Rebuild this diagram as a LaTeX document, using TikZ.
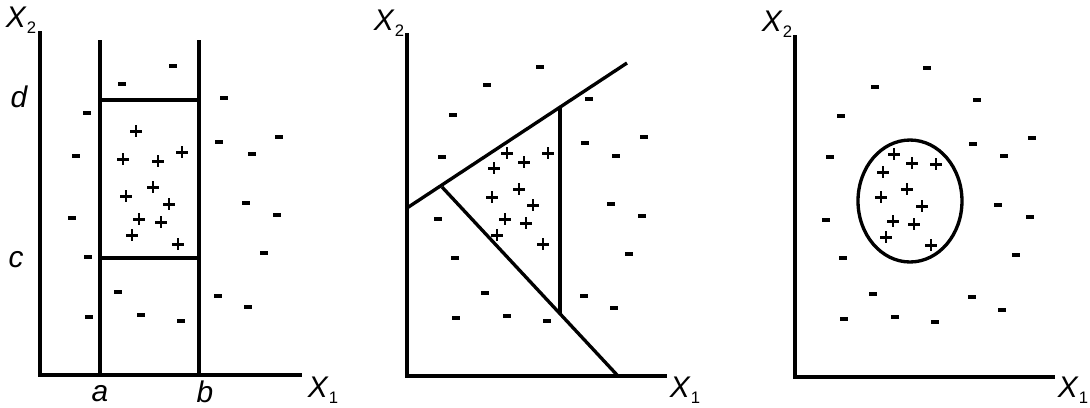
\documentclass[tikz,border=0pt]{standalone}
\usepackage{fontspec}
\setmainfont{Liberation Sans}
\usetikzlibrary{calc}

\newcommand{\axname}[1]{\textit{X}\raisebox{-0.4ex}{\fontsize{9.5}{9.5}\selectfont #1}}

\begin{document}
\begin{tikzpicture}[
      x=0.02cm, y=-0.02cm,
      axis/.style={line width=2pt, line cap=rect},
      bound/.style={line width=1.9pt},
      axlabel/.style={font=\fontsize{17}{17}\selectfont, inner sep=0pt},
      cutlabel/.style={font=\fontsize{17}{17}\selectfont\itshape, inner sep=0pt},
      plusmark/.pic={\draw[line width=1.7pt] (-6,0) -- (6,0) (0,-6) -- (0,6);},
      minusmark/.pic={\draw[line width=2pt] (-4,0) -- (4,0);}
  ]
    \useasboundingbox (0,0) rectangle (1090,407);

    % panel 1: axis-parallel box
    \coordinate (top1) at (40,33);
    \coordinate (o1) at (40,375);
    \coordinate (end1) at (300,375);
    \draw[axis] (top1) -- (o1) -- (end1);
    \node[axlabel] (xtwo1) at (21,20) {\axname{2}};
    \node[axlabel] (xone1) at (323,390) {\axname{1}};
    \coordinate (atop) at (100,40);
    \coordinate (abot) at (100,375);
    \coordinate (btop) at (199,40);
    \coordinate (bbot) at (199,375);
    \draw[bound] (atop) -- (abot);
    \draw[bound] (btop) -- (bbot);
    \draw[bound] (100,100) coordinate (dl) -- (199,100) coordinate (dr);
    \draw[bound] (100,258) coordinate (cl) -- (199,258) coordinate (cr);
    \node[cutlabel] (alab) at (100,394) {a};
    \node[cutlabel] (blab) at (205,392) {b};
    \node[cutlabel] (clab) at (16,260) {c};
    \node[cutlabel] (dlab) at (19,97) {d};
    \foreach \p in {(136,131),(123,159),(158,161),(182,152),(153,187),(126,196),
                    (169,204),(139,219),(161,222),(132,235),(178,244)}
      \pic at \p {plusmark};
    \foreach \p in {(173,66),(122,84),(224,98),(87,113),(279,137),(219,142),
                    (76,156),(252,154),(246,203),(72,218),(277,215),(88,257),
                    (264,253),(118,292),(218,296),(248,307),(89,317),(141,315),(181,321)}
      \pic at \p {minusmark};

    % panel 2: three linear cuts
    \coordinate (top2) at (407,35);
    \coordinate (o2) at (407,376);
    \coordinate (end2) at (665,376);
    \draw[axis] (top2) -- (o2) -- (end2);
    \node[axlabel] (xtwo2) at (389,23) {\axname{2}};
    \node[axlabel] (xone2) at (685,390) {\axname{1}};
    \coordinate (up1) at (407,208);
    \coordinate (up2) at (627,63);
    \coordinate (lo1) at (442,187);
    \coordinate (lo2) at (618,376);
    \coordinate (vt) at (560,107);
    \coordinate (vb) at (560,314);
    \draw[bound] (up1) -- (up2);
    \draw[bound] (lo1) -- (lo2);
    \draw[bound] (vt) -- (vb);
    \foreach \p in {(507,153),(494,168),(524,162),(548,153),(519,189),(492,197),
                    (533,205),(505,219),(526,223),(497,235),(543,244)}
      \pic at \p {plusmark};
    \foreach \p in {(540,67),(487,85),(589,99),(453,115),(644,137),(585,143),
                    (442,157),(616,156),(611,204),(438,219),(642,216),(455,258),
                    (629,254),(485,293),(584,296),(614,308),(456,318),(507,316),(547,321)}
      \pic at \p {minusmark};

    % panel 3: elliptical region
    \coordinate (top3) at (795,37);
    \coordinate (o3) at (795,377);
    \coordinate (end3) at (1053,377);
    \draw[axis] (top3) -- (o3) -- (end3);
    \node[axlabel] (xtwo3) at (777,24) {\axname{2}};
    \node[axlabel] (xone3) at (1073,390) {\axname{1}};
    \coordinate (ctr) at (910,201);
    \draw[bound] (ctr) ellipse [x radius=1.04cm, y radius=1.22cm];
    \foreach \p in {(894,154),(912,163),(936,164),(883,172),(907,189),(881,197),
                    (922,206),(893,221),(914,224),(886,237),(931,245)}
      \pic at \p {plusmark};
    \foreach \p in {(927,68),(875,87),(977,100),(841,116),(1032,138),(973,144),
                    (830,157),(1004,156),(998,205),(826,220),(1030,217),(843,258),
                    (1016,255),(873,294),(972,297),(1002,310),(844,319),(895,317),(935,322)}
      \pic at \p {minusmark};
  \end{tikzpicture}
\end{document}
